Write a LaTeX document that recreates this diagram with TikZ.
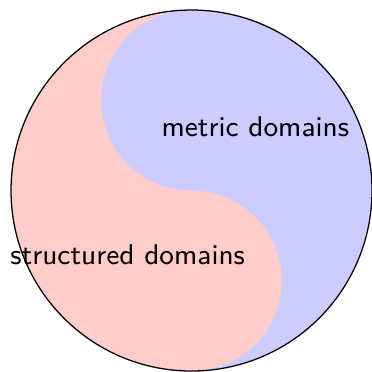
\documentclass[tikz,border=0pt]{standalone}
\usepackage{tikz}
\usetikzlibrary{positioning}

\begin{document}
\begin{tikzpicture}[
    domainlabel/.style={font=\sffamily\small,inner sep=2pt}]
    \useasboundingbox (-2.122,-2.0) rectangle (2.0,2.111);
    \fill[red!20] (0,0) circle[radius=2];
    \fill[blue!20] (0,2) arc[start angle=90,end angle=-90,radius=2]
      arc[start angle=-90,end angle=90,radius=1]
      arc[start angle=270,end angle=90,radius=1] -- cycle;
    \draw (0,0) circle[radius=2];
    \node[domainlabel] (metric) at (45:1) {metric domains};
    \node[domainlabel] (structured) at (225:1) {structured domains};
  \end{tikzpicture}
\end{document}
